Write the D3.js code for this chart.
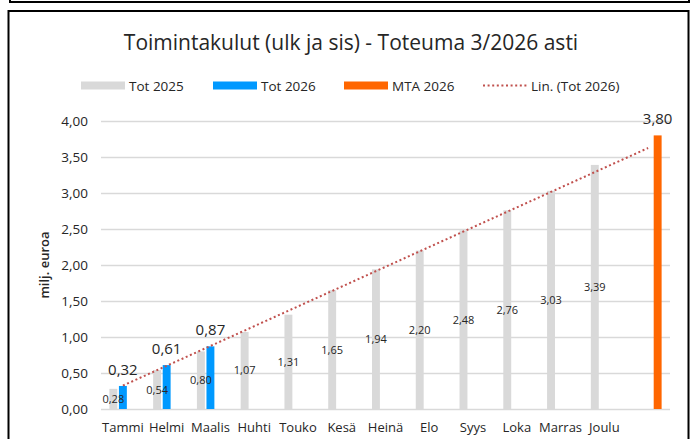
<!DOCTYPE html>
<html>
<head>
<meta charset="utf-8">
<script src="https://cdn.jsdelivr.net/npm/d3@7"></script>
<style>
  body { margin: 0; background: #fff; }
  text { font-family: "Open Sans", "Noto Sans", sans-serif; fill: #262626; }
</style>
</head>
<body>
<div class="chart"></div>
<script>
var svgWidth = 691;
var svgHeight = 439;

// data
var months = ["Tammi", "Helmi", "Maalis", "Huhti", "Touko", "Kesä", "Heinä", "Elo", "Syys", "Loka", "Marras", "Joulu", ""];
var tot2025 = [0.28, 0.54, 0.80, 1.07, 1.31, 1.65, 1.94, 2.20, 2.48, 2.76, 3.03, 3.39];
var tot2026 = [0.32, 0.61, 0.87];
var mta2026 = [null, null, null, null, null, null, null, null, null, null, null, null, 3.80];
var seriesNames = ["Tot 2025", "Tot 2026", "MTA 2026"];
var yTicks = [0, 0.5, 1, 1.5, 2, 2.5, 3, 3.5, 4];

var colors = {"Tot 2025": "#d9d9d9", "Tot 2026": "#0099ff", "MTA 2026": "#ff6600"};
var trendColor = "#c0504d";

var margin = {top: 121, left: 101, right: 21, bottom: 30};
var width = 670 - margin.left;
var height = 409 - margin.top;

var svg = d3.select(".chart")
  .append("svg")
  .attr("width", svgWidth)
  .attr("height", svgHeight);

// boxes round the chart
svg.append("rect")
  .attr("x", 10).attr("y", -40)
  .attr("width", 679).attr("height", 42)
  .attr("fill", "none").attr("stroke", "#000").attr("stroke-width", 2);

svg.append("rect")
  .attr("x", 8.5).attr("y", 11)
  .attr("width", 680).attr("height", 500)
  .attr("fill", "#fff").attr("stroke", "#000").attr("stroke-width", 2);

// title
svg.append("text")
  .attr("x", 351)
  .attr("y", 50)
  .attr("text-anchor", "middle")
  .style("font-size", "21px")
  .text("Toimintakulut (ulk ja sis) - Toteuma 3/2026 asti");

var chartGroup = svg.append("g")
  .attr("transform", `translate(${margin.left}, ${margin.top})`);

var xScale = d3.scaleBand()
  .domain(months)
  .range([0, width]);

var xInner = d3.scaleBand()
  .domain(seriesNames)
  .range([xScale.bandwidth() / 2 - 13.5, xScale.bandwidth() / 2 + 13.5])
  .paddingInner(0.17);

var yScale = d3.scaleLinear()
  .domain([0, 4])
  .range([height, 0]);

var fmt = function(v) { return d3.format(".2f")(v).replace(".", ","); };

// gridlines
chartGroup.append("g")
  .selectAll("line")
  .data(yTicks)
  .enter()
  .append("line")
  .attr("x1", 0)
  .attr("x2", width)
  .attr("y1", d => Math.round(yScale(d)) + 0.5)
  .attr("y2", d => Math.round(yScale(d)) + 0.5)
  .attr("stroke", "#d9d9d9")
  .attr("stroke-width", 1.5);

// y axis labels
var leftAxis = d3.axisLeft(yScale)
  .tickValues(yTicks)
  .tickSize(0)
  .tickPadding(13)
  .tickFormat(fmt);

var yAxis = chartGroup.append("g").call(leftAxis);
yAxis.select(".domain").remove();
yAxis.selectAll("text")
  .style("font-size", "13.5px")
  .attr("fill", "#404040");

// x axis labels
var bottomAxis = d3.axisBottom(xScale).tickSize(0).tickPadding(14);
var xAxis = chartGroup.append("g")
  .attr("transform", `translate(0, ${height})`)
  .call(bottomAxis);
xAxis.select(".domain").remove();
xAxis.selectAll("text")
  .style("font-size", "13px")
  .attr("fill", "#262626");

// y axis title
chartGroup.append("text")
  .attr("transform", "rotate(-90)")
  .attr("x", 0 - (265 - margin.top))
  .attr("y", 44 - margin.left + 5)
  .attr("text-anchor", "middle")
  .style("font-size", "13px")
  .style("font-weight", "600")
  .text("milj. euroa");

// bars
function drawBars(values, name) {
  var rows = values.map((v, i) => ({month: months[i], value: v}))
    .filter(d => d.value !== null);
  chartGroup.append("g")
    .selectAll("rect")
    .data(rows)
    .enter()
    .append("rect")
    .attr("x", d => xScale(d.month) + xInner(name))
    .attr("width", xInner.bandwidth())
    .attr("y", d => yScale(d.value))
    .attr("height", d => height - yScale(d.value))
    .attr("fill", colors[name]);
  return rows;
}

var rows2025 = drawBars(tot2025, "Tot 2025");
var rows2026 = drawBars(tot2026, "Tot 2026");
var rowsMta = drawBars(mta2026, "MTA 2026");

// Tot 2025 labels sit in the middle of the bar
chartGroup.append("g")
  .selectAll("text")
  .data(rows2025)
  .enter()
  .append("text")
  .attr("x", d => xScale(d.month) + xInner("Tot 2025") + xInner.bandwidth() / 2)
  .attr("y", d => yScale(d.value / 2) + 4)
  .attr("text-anchor", "middle")
  .style("font-size", "11px")
  .text(d => fmt(d.value));

// Tot 2026 and MTA labels above the bar
chartGroup.append("g")
  .selectAll("text")
  .data(rows2026.map(d => Object.assign({name: "Tot 2026"}, d))
    .concat(rowsMta.map(d => Object.assign({name: "MTA 2026"}, d))))
  .enter()
  .append("text")
  .attr("x", d => xScale(d.month) + xInner(d.name) + xInner.bandwidth() / 2)
  .attr("y", d => yScale(d.value) - 11)
  .attr("text-anchor", "middle")
  .style("font-size", "15px")
  .text(d => fmt(d.value));

// linear trend of Tot 2026, forecast to the last category
var xs = tot2026.map((v, i) => i + 1);
var mx = d3.mean(xs), my = d3.mean(tot2026);
var slope = d3.sum(xs, (x, i) => (x - mx) * (tot2026[i] - my)) / d3.sum(xs, x => (x - mx) * (x - mx));
var intercept = my - slope * mx;
var trendPts = [1, months.length].map(x => ({month: months[x - 1], value: intercept + slope * x}));

var line = d3.line()
  .x(d => xScale(d.month) + xScale.bandwidth() / 2)
  .y(d => yScale(d.value));

chartGroup.append("path")
  .datum(trendPts)
  .attr("d", line)
  .attr("fill", "none")
  .attr("stroke", trendColor)
  .attr("stroke-width", 2)
  .attr("stroke-dasharray", "2,2.6");

// legend
var legendItems = [
  {name: "Tot 2025", x: 81, type: "rect"},
  {name: "Tot 2026", x: 213, type: "rect"},
  {name: "MTA 2026", x: 344, type: "rect"},
  {name: "Lin. (Tot 2026)", x: 483, type: "line"}
];

var legend = svg.append("g").attr("transform", "translate(0, 85.5)");
legendItems.forEach(function(item) {
  if (item.type === "rect") {
    legend.append("rect")
      .attr("x", item.x).attr("y", -4)
      .attr("width", 44).attr("height", 8)
      .attr("fill", colors[item.name]);
  }
  else {
    legend.append("line")
      .attr("x1", item.x).attr("x2", item.x + 44)
      .attr("y1", 0).attr("y2", 0)
      .attr("stroke", trendColor)
      .attr("stroke-width", 2)
      .attr("stroke-dasharray", "2,2.6");
  }
  legend.append("text")
    .attr("x", item.x + 48)
    .attr("y", 5)
    .style("font-size", "13.5px")
    .text(item.name);
});
</script>
</body>
</html>
